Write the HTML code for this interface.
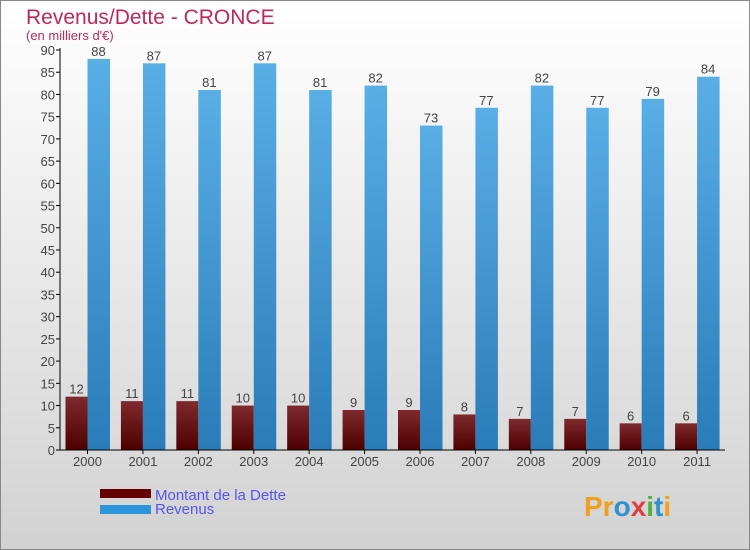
<!DOCTYPE html>
<html><head><meta charset="utf-8"><style>
body{margin:0;width:750px;height:550px;overflow:hidden}
svg{display:block}
text{font-family:"Liberation Sans",sans-serif}
</style></head><body>
<svg width="750" height="550">
<defs>
<linearGradient id="bg" x1="0" y1="0" x2="0" y2="1"><stop offset="0" stop-color="#ffffff"/><stop offset="1" stop-color="#d2d2d2"/></linearGradient>
<linearGradient id="gd" x1="0" y1="0" x2="0" y2="1"><stop offset="0" stop-color="#7e2a2e"/><stop offset="1" stop-color="#4e0000"/></linearGradient>
<linearGradient id="gb" x1="0" y1="0" x2="0" y2="1"><stop offset="0" stop-color="#5aaee6"/><stop offset="1" stop-color="#2a7cb8"/></linearGradient>
</defs>
<rect x="0.5" y="0.5" width="749" height="549" fill="url(#bg)" stroke="#888"/>
<text x="26" y="24" font-size="21" fill="#c0285a">Revenus/Dette - CRONCE</text>
<text x="26" y="40" font-size="13" fill="#c0285a">(en milliers d'€)</text>
<g id="plot"></g>
<rect x="100" y="489" width="51" height="9" fill="#660000"/>
<rect x="100" y="505" width="51" height="9" fill="#2b95dc"/>
<text x="155" y="500" font-size="15" fill="#5555ee">Montant de la Dette</text>
<text x="155" y="514" font-size="15" fill="#5555ee">Revenus</text>
<text x="584" y="516" font-size="28" font-weight="bold"><tspan fill="#f0a020">Pr</tspan><tspan fill="#3090d0">o</tspan><tspan fill="#e04040">x</tspan><tspan fill="#50b040">i</tspan><tspan fill="#3090d0">t</tspan><tspan fill="#f0a020">i</tspan></text>
</svg>
<script>
const years=["2000","2001","2002","2003","2004","2005","2006","2007","2008","2009","2010","2011"];
const dette=[12,11,11,10,10,9,9,8,7,7,6,6];
const revenus=[88,87,81,87,81,82,73,77,82,77,79,84];
const yTicks=[0,5,10,15,20,25,30,35,40,45,50,55,60,65,70,75,80,85,90];
const NS="http://www.w3.org/2000/svg";
const g=document.getElementById('plot');
const x0=60,x1=725,y0=450,yTop=50,yMax=90;
const band=(x1-x0)/years.length;
const y=v=>y0-(v/yMax)*(y0-yTop);
function mk(t,a){const e=document.createElementNS(NS,t);for(const k in a)e.setAttribute(k,a[k]);g.appendChild(e);return e;}
yTicks.forEach(t=>{
 const l=mk('line',{x1:x0-4,x2:x0,y1:y(t),y2:y(t),stroke:'#000'});
 
 
 const tx=mk('text',{x:x0-5,y:y(t)+5,'font-size':13,'text-anchor':'end',fill:'#444'});
 tx.textContent=t;
 
 
});
years.forEach((yr,i)=>{
 const gx=x0+i*band+5.5;
 const d=mk('rect',{x:gx,y:y(dette[i]),width:22,height:y0-y(dette[i]),fill:'url(#gd)'});
 
 
 const b=mk('rect',{x:gx+22,y:y(revenus[i]),width:22.5,height:y0-y(revenus[i]),fill:'url(#gb)'});
 
 
 const dl=mk('text',{x:gx+11,y:y(dette[i])-3,'font-size':13,'text-anchor':'middle',fill:'#444'});
 dl.textContent=dette[i];
 
 
 const bl=mk('text',{x:gx+33,y:y(revenus[i])-3,'font-size':13,'text-anchor':'middle',fill:'#444'});
 bl.textContent=revenus[i];
 
 
 const tk=mk('line',{x1:gx+22,x2:gx+22,y1:y0,y2:y0+4,stroke:'#000'});
 
 
 const xl=mk('text',{x:gx+22,y:y0+16,'font-size':13,'text-anchor':'middle',fill:'#444'});
 xl.textContent=yr;
 
 
});
const ya=mk('line',{x1:x0,x2:x0,y1:yTop-2,y2:y0,stroke:'#000'});


const xa=mk('line',{x1:x0,x2:x1,y1:y0,y2:y0,stroke:'#000'});


</script>
</body></html>
